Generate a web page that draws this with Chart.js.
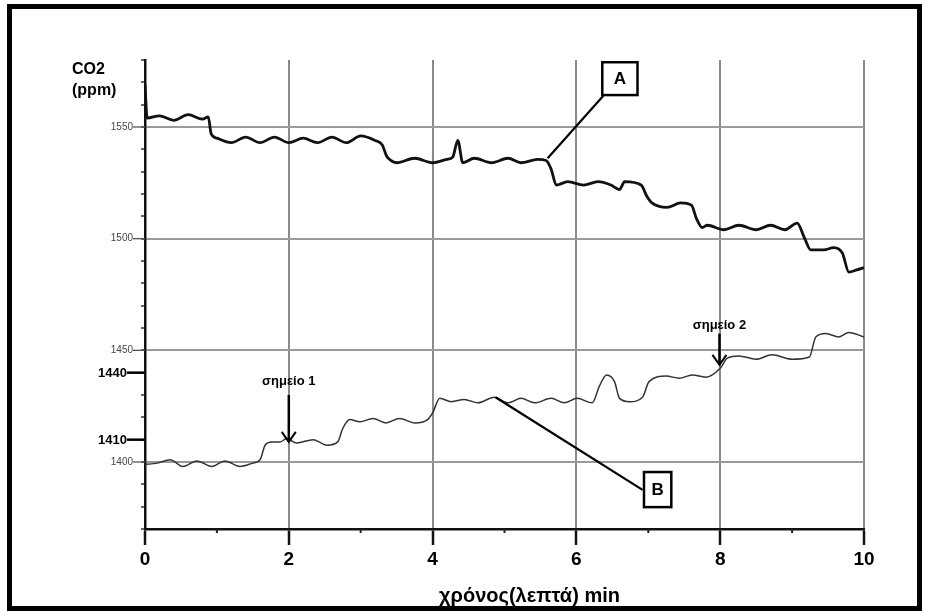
<!DOCTYPE html>
<html>
<head>
<meta charset="utf-8">
<script src="https://cdn.jsdelivr.net/npm/chart.js@4/dist/chart.umd.min.js"></script>
<style>
html,body{margin:0;padding:0;background:#fff;}
#wrap{position:relative;width:927px;height:611px;}
</style>
</head>
<body>
<div id="wrap"><canvas id="c"></canvas></div>
<script>
// ---- data ----
const timeA = [0, 0.03, 0.2, 0.4, 0.6, 0.8, 0.88, 0.92, 1.0, 1.2, 1.4, 1.6, 1.8, 2.0, 2.2, 2.4, 2.6, 2.8, 3.0, 3.2, 3.3, 3.36, 3.42, 3.5, 3.75, 4.0, 4.2, 4.28, 4.35, 4.42, 4.58, 4.82, 5.05, 5.23, 5.46, 5.58, 5.65, 5.72, 5.88, 6.1, 6.3, 6.48, 6.6, 6.67, 6.9, 6.98, 7.05, 7.26, 7.45, 7.6, 7.67, 7.75, 7.82, 8.05, 8.26, 8.5, 8.7, 8.9, 9.07, 9.17, 9.26, 9.44, 9.58, 9.7, 9.79, 9.9, 10];
const co2A  = [1569, 1554, 1555, 1553, 1555.5, 1553.5, 1554.5, 1547, 1545, 1543, 1545.5, 1543, 1545.5, 1543, 1545, 1543, 1545.5, 1543, 1546, 1544, 1542, 1537, 1535, 1534, 1536, 1534, 1535.5, 1536.5, 1544, 1534, 1536, 1534, 1536, 1534, 1535.5, 1535, 1531, 1524, 1525.5, 1524, 1525.5, 1524, 1522, 1525.5, 1524, 1519, 1516, 1514, 1516, 1515, 1509, 1505, 1506, 1504, 1506, 1504, 1506, 1504, 1507, 1500.5, 1495, 1495, 1496, 1493.5, 1485, 1486, 1487];

const timeB = [0, 0.02, 0.17, 0.35, 0.53, 0.72, 0.93, 1.11, 1.32, 1.5, 1.6, 1.67, 1.76, 1.88, 1.97, 2.11, 2.34, 2.53, 2.68, 2.75, 2.85, 2.99, 3.17, 3.35, 3.54, 3.75, 3.93, 4.0, 4.1, 4.26, 4.44, 4.63, 4.86, 5.05, 5.23, 5.42, 5.65, 5.83, 6.01, 6.22, 6.32, 6.42, 6.53, 6.6, 6.74, 6.92, 7.01, 7.25, 7.43, 7.61, 7.8, 8.0, 8.1, 8.26, 8.5, 8.72, 9.0, 9.24, 9.33, 9.47, 9.65, 9.79, 10];
const co2B  = [1399, 1399, 1399.5, 1401, 1398, 1400.5, 1398, 1400.5, 1398, 1399.5, 1401, 1407.5, 1409, 1409, 1410.5, 1408.5, 1410, 1407.5, 1409, 1415, 1419, 1418, 1419.5, 1417.5, 1419.5, 1417.5, 1419, 1422, 1428.5, 1427, 1428, 1426.5, 1429, 1426.5, 1428.5, 1426.5, 1428.5, 1426.5, 1428.5, 1426.5, 1434, 1439, 1436, 1428.5, 1427, 1429, 1436, 1438.5, 1437.5, 1439, 1438, 1442, 1446.5, 1447.5, 1446, 1448, 1446, 1447, 1456, 1457.5, 1456, 1458, 1456];

const xTickLabels = [0, 2, 4, 6, 8, 10];
const yTickLabels = [1400, 1450, 1500, 1550];
const yBoldTicks  = [1410, 1440];

const ptsA = timeA.map((t, i) => ({x: t, y: co2A[i]}));
const ptsB = timeB.map((t, i) => ({x: t, y: co2B[i]}));

const FONT = "'Liberation Sans', Arial, sans-serif";

const annot = {
  id: 'annot',
  afterDatasetsDraw(chart) {
    const {ctx, chartArea: ca, scales: {x, y}} = chart;
    const px = t => x.getPixelForValue(t), py = v => y.getPixelForValue(v);
    ctx.save();
    ctx.lineCap = 'butt';
    // minor x ticks
    ctx.fillStyle = '#222';
    [1, 3, 5, 7, 9].forEach(t => ctx.fillRect(px(t) - 1, ca.bottom, 2, 4));
    // longer dashes for labelled y ticks
    ctx.strokeStyle = '#555'; ctx.lineWidth = 1.3;
    yTickLabels.forEach(v => { ctx.beginPath(); ctx.moveTo(ca.left - 12, py(v)); ctx.lineTo(ca.left, py(v)); ctx.stroke(); });
    // bold y ticks
    ctx.strokeStyle = '#000'; ctx.lineWidth = 2.5; ctx.fillStyle = '#000';
    ctx.font = 'bold 13px ' + FONT; ctx.textAlign = 'right'; ctx.textBaseline = 'middle';
    yBoldTicks.forEach(v => {
      ctx.beginPath(); ctx.moveTo(ca.left - 18, py(v)); ctx.lineTo(ca.left, py(v)); ctx.stroke();
      ctx.fillText(String(v), ca.left - 18, py(v) + 1);
    });
    // y title
    ctx.font = 'bold 16px ' + FONT; ctx.textAlign = 'left'; ctx.textBaseline = 'top';
    ctx.fillText('CO2', ca.left - 73, 62);
    ctx.fillText('(ppm)', ca.left - 73, 83);
    // x title
    ctx.font = 'bold 20px ' + FONT; ctx.textAlign = 'center'; ctx.textBaseline = 'middle';
    ctx.fillText('χρόνος(λεπτά) min', (ca.left + ca.right) / 2 + 25, 596);

    // arrows
    function arrow(t, v0, v1) {
      const X = px(t), Y0 = py(v0), Y1 = py(v1);
      ctx.strokeStyle = '#000'; ctx.lineWidth = 2.5;
      ctx.beginPath(); ctx.moveTo(X, Y0); ctx.lineTo(X, Y1); ctx.stroke();
      ctx.lineWidth = 2;
      ctx.beginPath(); ctx.moveTo(X - 7, Y1 - 10); ctx.lineTo(X, Y1); ctx.lineTo(X + 7, Y1 - 10); ctx.stroke();
    }
    arrow(2, 1430, 1409);
    arrow(7.99, 1457.5, 1443.5);
    ctx.font = 'bold 13px ' + FONT; ctx.fillStyle = '#000';
    ctx.textAlign = 'center'; ctx.textBaseline = 'middle';
    ctx.fillText('σημείο 1', px(2), py(1436));
    ctx.fillText('σημείο 2', px(7.99), py(1461));

    // leader lines + boxes
    function leader(t0, v0, t1, v1) {
      ctx.strokeStyle = '#000'; ctx.lineWidth = 2.2;
      ctx.beginPath(); ctx.moveTo(px(t0), py(v0)); ctx.lineTo(px(t1), py(v1)); ctx.stroke();
    }
    function box(t0, v0, t1, v1, txt) {
      const X0 = px(t0), Y0 = py(v0), X1 = px(t1), Y1 = py(v1);
      ctx.fillStyle = '#fff'; ctx.fillRect(X0, Y0, X1 - X0, Y1 - Y0);
      ctx.strokeStyle = '#000'; ctx.lineWidth = 2.5; ctx.strokeRect(X0, Y0, X1 - X0, Y1 - Y0);
      ctx.fillStyle = '#000'; ctx.font = 'bold 17px ' + FONT;
      ctx.textAlign = 'center'; ctx.textBaseline = 'middle';
      ctx.fillText(txt, (X0 + X1) / 2, (Y0 + Y1) / 2 + 1);
    }
    leader(5.6, 1536, 6.375, 1564);
    box(6.36, 1579, 6.85, 1564.3, 'A');
    leader(4.875, 1429, 6.92, 1387.5);
    box(6.94, 1395.5, 7.32, 1379.8, 'B');
    ctx.restore();
  },
  afterDraw(chart) {
    const ctx = chart.ctx;
    ctx.save();
    ctx.strokeStyle = '#000'; ctx.lineWidth = 5;
    ctx.strokeRect(9.5, 6.5, 910, 602);
    ctx.restore();
  }
};

new Chart(document.getElementById('c'), {
  type: 'line',
  data: {
    datasets: [
      {label: 'A', data: ptsA, borderColor: '#111', borderWidth: 2.8, pointRadius: 0, cubicInterpolationMode: 'monotone', fill: false},
      {label: 'B', data: ptsB, borderColor: '#333', borderWidth: 1.5, pointRadius: 0, cubicInterpolationMode: 'monotone', fill: false}
    ]
  },
  options: {
    responsive: true,
    maintainAspectRatio: false,
    animation: false,
    events: [],
    layout: {padding: {left: 0, top: 60, right: 63, bottom: 0}},
    plugins: {legend: {display: false}, tooltip: {enabled: false}, title: {display: false}},
    scales: {
      x: {
        type: 'linear', min: 0, max: 10,
        afterFit: s => { s.height = 82; },
        border: {color: '#111', width: 2.5},
        grid: {
          color: c => (c.tick && xTickLabels.includes(c.tick.value) && c.tick.value !== 0) ? '#8a8a8a' : 'rgba(0,0,0,0)',
          lineWidth: 2,
          tickColor: c => (c.tick && xTickLabels.includes(c.tick.value)) ? '#111' : 'rgba(0,0,0,0)',
          tickLength: 16, tickWidth: 2.5
        },
        ticks: {
          stepSize: 1, autoSkip: false, maxRotation: 0, padding: 3,
          color: '#000', font: {family: FONT, size: 19, weight: 'bold'},
          callback: v => xTickLabels.includes(v) ? String(v) : ''
        }
      },
      y: {
        type: 'linear', min: 1370, max: 1580,
        afterFit: s => { s.width = 145; },
        border: {color: '#111', width: 2.5},
        grid: {
          color: c => (c.tick && yTickLabels.includes(c.tick.value)) ? '#9a9a9a' : 'rgba(0,0,0,0)',
          lineWidth: 2,
          tickColor: '#333', tickLength: 4, tickWidth: 1.5
        },
        ticks: {
          stepSize: 10, autoSkip: false, padding: 8,
          color: '#444', font: {family: FONT, size: 10},
          callback: v => yTickLabels.includes(v) ? String(v) : ''
        }
      }
    }
  },
  plugins: [annot]
});
</script>
</body>
</html>
